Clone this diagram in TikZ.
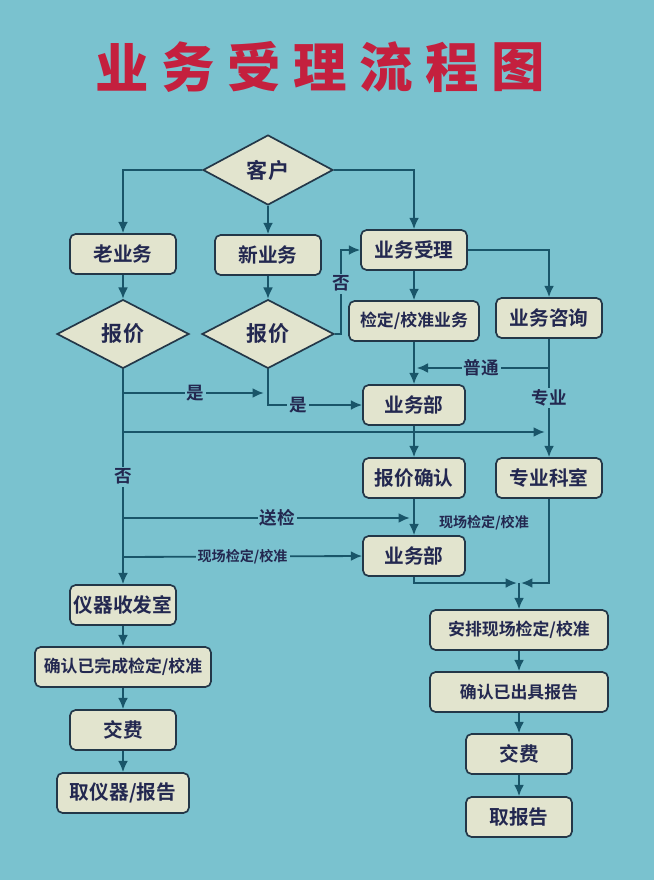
\documentclass[tikz,border=0pt]{standalone}
\usepackage{fontspec}
\setmainfont{Noto Sans CJK SC}[BoldFont={Noto Sans CJK SC Bold}]
\newfontfamily\titlefont{Noto Sans CJK SC Black}
\usetikzlibrary{shapes.geometric,arrows.meta,positioning}
\definecolor{bg}{RGB}{122,194,207}
\definecolor{boxfill}{RGB}{226,228,206}
\definecolor{frame}{RGB}{35,55,72}
\definecolor{line}{RGB}{25,85,105}
\definecolor{ink}{RGB}{35,40,80}
\definecolor{titlered}{RGB}{196,32,62}

\begin{document}
\begin{tikzpicture}[x=0.025cm, y=-0.025cm,
  box/.style={draw=frame, line width=1.2pt, fill=boxfill, rounded corners=4pt, text=ink,
    minimum width=#1, minimum height=1cm, inner sep=2pt, font=\fontsize{14}{16}\bfseries},
  box/.default=2.65cm,
  longtxt/.style={font=\fontsize{12}{14}\bfseries},
  dia/.style={diamond, draw=frame, line width=1.2pt, fill=boxfill, text=ink,
    minimum width=3.3cm, minimum height=1.72cm, inner sep=0pt, font=\fontsize{15}{17}\bfseries},
  arr/.style={draw=line, line width=1.3pt, -{Latex[length=8pt,width=7pt]}},
  lbl/.style={fill=bg, inner sep=1.5pt, text=ink, font=\fontsize{12.5}{14}\bfseries},
  smalllbl/.style={fill=bg, inner sep=1.5pt, text=ink, font=\fontsize{10}{12}\bfseries},
  title/.style={text=titlered, font=\titlefont\fontsize{38}{40}\selectfont}]
\useasboundingbox (0,0) rectangle (654,880);
\fill[bg] (0,0) rectangle (654,880);

\foreach \c [count=\i from 0] in {业,务,受,理,流,程,图}
  \node[title] (t\i) at (122+66*\i,67) {\c};

\node[dia, minimum width=3.25cm, minimum height=1.75cm] (kehu) at (268,170) {客户};
\node[box] (lao) at (123,254) {老业务};
\node[box] (xin) at (268,255) {新业务};
\node[box] (shouli) at (414,250) {业务受理};
\node[dia] (bj1) at (123,334) {报价};
\node[dia] (bj2) at (268,334) {报价};
\node[box=3.25cm, longtxt] (jd) at (414,321) {检定/校准业务};
\node[box] (zx) at (549,318) {业务咨询};
\node[box=2.55cm] (bmA) at (414,405) {业务部};
\node[box=2.55cm] (qr) at (414,478) {报价确认};
\node[box] (ks) at (549,478) {专业科室};
\node[box=2.55cm] (bmB) at (414,556) {业务部};
\node[box] (sf) at (123,605) {仪器收发室};
\node[box=4.4cm, longtxt] (wc) at (123,667) {确认已完成检定/校准};
\node[box] (jfA) at (123,730) {交费};
\node[box=3.3cm] (qyq) at (123,793) {取仪器/报告};
\node[box=4.45cm, longtxt] (ap) at (519,630) {安排现场检定/校准};
\node[box=4.45cm, longtxt] (cj) at (519,692) {确认已出具报告};
\node[box] (jfB) at (519,754) {交费};
\node[box] (qbg) at (519,817) {取报告};

\coordinate (pt) at (549,368);
\coordinate (s1) at (123,393);
\coordinate (s2) at (123,432);
\coordinate (s3) at (123,518);
\coordinate (s4) at (123,557);
\coordinate (hb) at (519,583);

\draw[arr] (kehu.west) -| (lao);
\draw[arr] (kehu.south) -- (xin);
\draw[arr] (kehu.east) -| (shouli);
\draw[arr] (lao) -- (bj1);
\draw[arr] (xin) -- (bj2);
\draw[arr] (bj2.east) -- ++(6,0) |- (shouli.west) node[lbl, pos=0.3] {否};
\draw[arr] (shouli) -- (jd);
\draw[arr] (shouli.east) -| (zx);
\draw[arr] (jd) -- (bmA);
\draw[arr] (zx) -- (ks) node[lbl, midway] {专业};
\draw[arr, shorten >=2pt] (pt) -- (bmA.north |- pt) node[lbl, midway] {普通};
\draw[arr] (bj1) -- (sf) node[lbl, midway] {否};
\draw[arr, shorten >=3pt] (s1) -- (bj2.south |- s1) node[lbl, midway] {是};
\draw[arr] (bj2.south) |- (bmA.west) node[lbl, pos=0.66] {是};
\draw[arr, shorten >=3pt] (s2) -- (ks.north |- s2);
\draw[arr, shorten >=3pt] (s3) -- (qr.south |- s3) node[lbl, pos=0.53] {送检};
\draw[arr] (bmA) -- (qr);
\draw[arr] (qr) -- (bmB) node[smalllbl, pos=0.65, anchor=west, xshift=0.55cm] {现场检定/校准};
\draw[arr] (s4) -- (bmB.west) node[smalllbl, midway] {现场检定/校准};
\draw[arr, shorten >=1.5pt] (bmB.south) |- (hb);
\draw[arr, shorten >=1.5pt] (ks.south) |- (hb);
\draw[arr] (hb) -- (ap);

\foreach \a/\b in {sf/wc, wc/jfA, jfA/qyq, ap/cj, cj/jfB, jfB/qbg}
  \draw[arr] (\a) -- (\b);
\end{tikzpicture}
\end{document}
